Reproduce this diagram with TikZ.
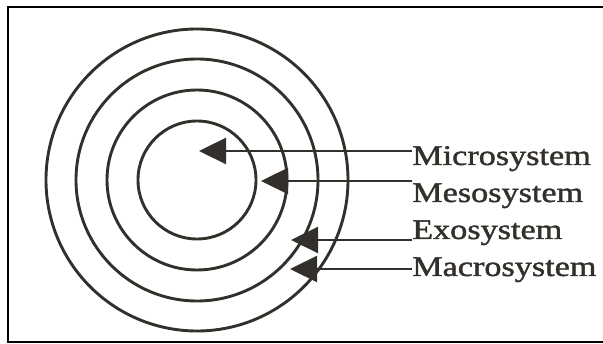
\documentclass[tikz,border=0pt]{standalone}
\usepackage{fontspec}
\setmainfont{Liberation Serif}[FakeBold=1.2]
\usetikzlibrary{arrows.meta}
\definecolor{ink}{HTML}{332F2B}

\begin{document}
\begin{tikzpicture}[x=1pt,y=-1pt,
        ring/.style={draw=ink,line width=2.9pt},
        lbl/.style={anchor=base west,inner sep=0pt,xscale=1.2,text=ink,
            font=\fontsize{28.5}{28.5}\selectfont},
        pointer/.style={draw=ink,line width=2.3pt,
            -{Triangle[length=27pt,width=26pt]}}]
    \useasboundingbox (0,0) rectangle (603,344);
    % frame
    \draw[line width=2.5pt] (605,7) -- (8,7) -- (8,342) -- (605,342);
    % rings
    \coordinate (c) at (197,180);
    \foreach \r in {59,90,121,151}
        \draw[ring] (c) circle (\r);
    % labels
    \node[lbl] (micro) at (412,165) {Microsystem};
    \node[lbl] (meso) at (412,202) {Mesosystem};
    \node[lbl] (exo) at (412,239) {Exosystem};
    \node[lbl] (macro) at (412,276) {Macrosystem};
    % arrow tips
    \coordinate (tmicro) at (199,151);
    \coordinate (tmeso) at (261,181);
    \coordinate (texo) at (291,240);
    \coordinate (tmacro) at (290,269);
    \draw[pointer] (micro.west |- tmicro) -- (tmicro);
    \draw[pointer] (meso.west |- tmeso) -- (tmeso);
    \draw[pointer] (exo.west |- texo) -- (texo);
    \draw[pointer] (macro.west |- tmacro) -- (tmacro);
\end{tikzpicture}
\end{document}
